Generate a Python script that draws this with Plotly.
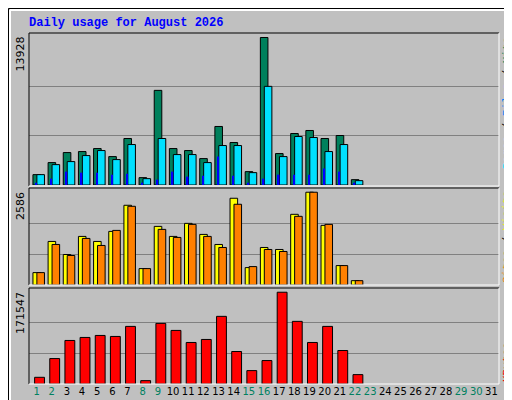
import plotly.graph_objects as go

days = list(range(1, 23))
hits = [979, 2116, 3063, 3158, 3442, 2684, 4390, 695, 8937, 3442, 3253, 2495, 5527, 4011, 1263, 13928, 2969, 4863, 5148, 4390, 4674, 505]
files = [979, 1926, 2211, 2779, 3253, 2400, 3821, 600, 4390, 2874, 2874, 2116, 3726, 3726, 1168, 9316, 2684, 4579, 4484, 3158, 3821, 411]
pages = [221, 600, 1263, 1168, 1168, 979, 1074, 221, 505, 1263, 790, 884, 2684, 884, 221, 600, 979, 979, 979, 1547, 1263, 221]
visits = [345, 1214, 850, 1354, 1214, 1494, 2222, 457, 1634, 1354, 1718, 1410, 1130, 2418, 485, 1046, 990, 1970, 2586, 1662, 541, 121]
sites = [345, 1130, 822, 1298, 1102, 1522, 2194, 457, 1550, 1326, 1690, 1354, 1046, 2250, 513, 990, 934, 1914, 2586, 1690, 541, 121]
kbytes = [12520, 47576, 81380, 87014, 90770, 88892, 107672, 6260, 113306, 100160, 77624, 83258, 126452, 60722, 25040, 43820, 171547, 117062, 77624, 107672, 62600, 17528]
weekend = [1, 2, 8, 9, 15, 16, 22, 23, 29, 30]
tick_labels = [str(d) for d in range(1, 32)]

W, H = 512, 400
L, R, T, B = 21, 21, 25, 24
pw, ph = W - L - R, H - T - B

def fx(px):
    return (px - L) / pw

def fy(py):
    return 1 - (py - T) / ph

line = dict(color="black", width=1)
fig = go.Figure()
fig.add_bar(x=days, y=hits, offset=-0.24, width=0.5, marker=dict(color="#00805C", line=line), yaxis="y")
fig.add_bar(x=days, y=files, offset=0.02, width=0.5, marker=dict(color="#00E0FF", line=line), yaxis="y")
fig.add_bar(x=days, y=pages, offset=-0.08, width=0.1, marker=dict(color="#0000FF", line=dict(width=0)), yaxis="y")
fig.add_bar(x=days, y=visits, offset=-0.24, width=0.5, marker=dict(color="#FFFF00", line=line), yaxis="y2")
fig.add_bar(x=days, y=sites, offset=0.02, width=0.5, marker=dict(color="#FF8000", line=line), yaxis="y2")
fig.add_bar(x=days, y=kbytes, offset=-0.13, width=0.65, marker=dict(color="#FF0000", line=line), yaxis="y3")

d1 = [fy(177), 1]
d2 = [fy(277), fy(180)]
d3 = [0, fy(280)]

def yax(dom, mx, frac):
    top = mx * frac
    return dict(domain=dom, range=[0, top], tickvals=[mx / 3, 2 * mx / 3], showticklabels=False,
                gridcolor="#808080", gridwidth=1, zeroline=False, showline=False, fixedrange=True,
                automargin=False)

ticktext = [f"<span style='color:#008060'>{t}</span>" if int(t) in weekend else t for t in tick_labels]

fig.update_layout(
    width=W, height=H, margin=dict(l=L, r=R, t=T, b=B, autoexpand=False),
    paper_bgcolor="#C0C0C0", plot_bgcolor="#C0C0C0",
    barmode="overlay", showlegend=False,
    font=dict(family="DejaVu Sans", size=11, color="black"),
    xaxis=dict(range=[0.5, 31.5], tickvals=list(range(1, 32)), ticktext=ticktext, tickangle=0,
               tickfont=dict(size=10), showgrid=False, zeroline=False, ticks="", anchor="y3",
               automargin=False, fixedrange=True),
    yaxis=yax(d1, 13928, 151.5 / 147),
    yaxis2=yax(d2, 2586, 96.5 / 92.3),
    yaxis3=yax(d3, 171547, 95.5 / 91.3),
)

shapes = []
# outer bevel
shapes.append(dict(type="rect", xref="paper", yref="paper", x0=fx(0.5), x1=fx(511.5), y0=fy(399.5), y1=fy(0.5),
                   line=dict(color="black", width=1)))
shapes.append(dict(type="line", xref="paper", yref="paper", x0=fx(2), x1=fx(509), y0=fy(2), y1=fy(2), line=dict(color="white", width=2)))
shapes.append(dict(type="line", xref="paper", yref="paper", x0=fx(2), x1=fx(2), y0=fy(2), y1=fy(397), line=dict(color="white", width=2)))
shapes.append(dict(type="line", xref="paper", yref="paper", x0=fx(509), x1=fx(509), y0=fy(2), y1=fy(397), line=dict(color="#808080", width=3)))
shapes.append(dict(type="line", xref="paper", yref="paper", x0=fx(2), x1=fx(509), y0=fy(397), y1=fy(397), line=dict(color="#808080", width=3)))
for top, bot in [(25, 178), (180, 277), (280, 376)]:
    shapes.append(dict(type="line", xref="paper", yref="paper", x0=fx(L), x1=fx(491), y0=fy(top), y1=fy(top), line=line))
    shapes.append(dict(type="line", xref="paper", yref="paper", x0=fx(L), x1=fx(L), y0=fy(top), y1=fy(bot), line=line))
    shapes.append(dict(type="line", xref="paper", yref="paper", x0=fx(491), x1=fx(491), y0=fy(top), y1=fy(bot), line=dict(color="white", width=1)))
    shapes.append(dict(type="line", xref="paper", yref="paper", x0=fx(L), x1=fx(491), y0=fy(bot), y1=fy(bot), line=dict(color="white", width=1)))
fig.update_layout(shapes=shapes)

mono = "Liberation Mono"
ann = [
    dict(text="<b>Daily usage for August 2026</b>", x=fx(19), y=fy(15), xanchor="left", yanchor="middle",
         font=dict(family=mono, size=12, color="#0000FF")),
    dict(text="13928", x=fx(12), y=fy(27), textangle=-90, xanchor="center", yanchor="top", font=dict(size=11)),
    dict(text="2586", x=fx(12), y=fy(182), textangle=-90, xanchor="center", yanchor="top", font=dict(size=11)),
    dict(text="171547", x=fx(12), y=fy(282), textangle=-90, xanchor="center", yanchor="top", font=dict(size=11)),
    dict(text="<span style='color:#00E0FF'>Pages</span> / <span style='color:#0080FF'>Files</span> / <span style='color:#00805C'>Hits</span>",
         x=fx(499), y=fy(27), textangle=-90, xanchor="center", yanchor="top", font=dict(family=mono, size=11)),
    dict(text="<span style='color:#FF8000'>Sites</span> / <span style='color:#FFFF00'>Visits</span>",
         x=fx(499), y=fy(277), textangle=-90, xanchor="center", yanchor="bottom", font=dict(family=mono, size=11)),
    dict(text="<span style='color:#FF0000'>KBytes</span>",
         x=fx(499), y=fy(376), textangle=-90, xanchor="center", yanchor="bottom", font=dict(family=mono, size=11)),
]
for a in ann:
    a.update(xref="paper", yref="paper", showarrow=False)
fig.update_layout(annotations=ann)

fig.write_html("out.html", config={"displayModeBar": False})
